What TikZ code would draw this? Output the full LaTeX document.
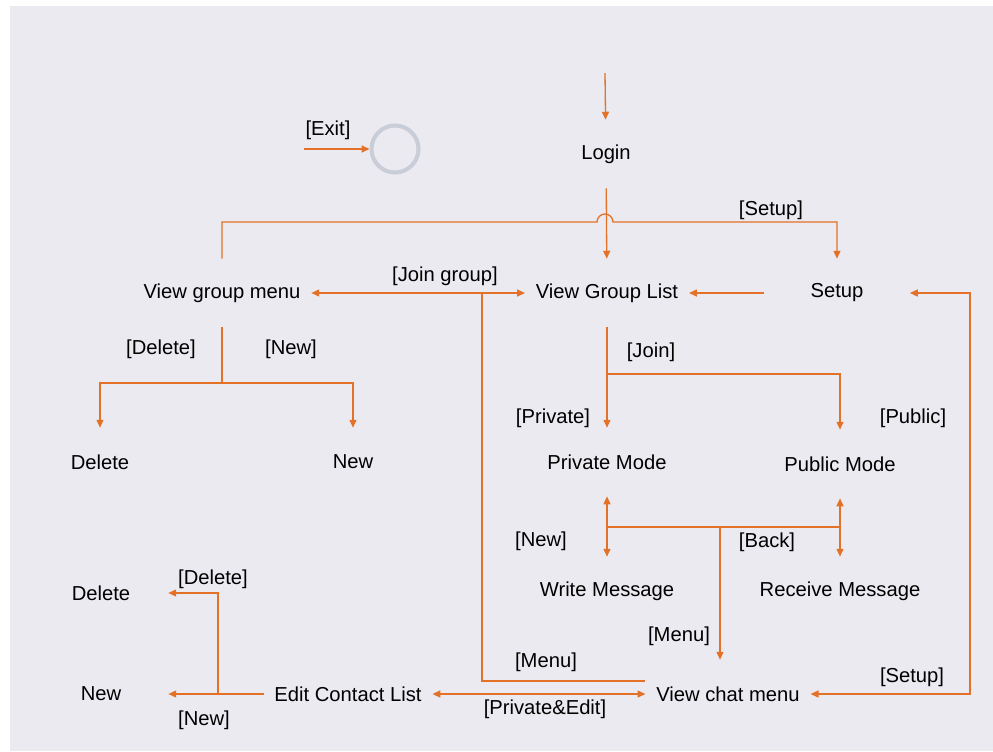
\documentclass[tikz,border=0pt]{standalone}
\usepackage{fontspec}
\setmainfont{Liberation Sans}
\usepackage{xcolor}
\usetikzlibrary{arrows.meta, positioning}
\definecolor{flowline}{RGB}{228,113,40}
\definecolor{canvas}{RGB}{235,234,240}
\definecolor{endring}{RGB}{200,205,216}
\tikzset{
  state/.style={inner xsep=6pt, inner ysep=0pt, minimum height=1.36cm,
                font=\fontsize{11.5}{13.8}\selectfont},
  sidestate/.style={state, minimum width=2.68cm},
  guard/.style={inner sep=1pt, font=\fontsize{11.5}{13.8}\selectfont},
  link/.style={draw=flowline, line width=0.75pt},
  flow/.style={link, -{Triangle[length=4.5pt, width=4pt]}},
  twoway/.style={link, {Triangle[length=4.5pt, width=4pt]}-{Triangle[length=4.5pt, width=4pt]}},
  finalstate/.style={circle, draw=endring, line width=2.3pt,
                     minimum size=0.94cm, inner sep=0pt},
}

\begin{document}
\begin{tikzpicture}[x=0.02cm, y=-0.02cm]
  \useasboundingbox (0,0) rectangle (993,751);
  \fill[canvas] (10,6) rectangle (993,751);

  % --- States ---
  \node[state] (login) at (606,154) {Login};
  \node[state] (vgm)   at (222,293) {View group menu};
  \node[state] (vgl)   at (607,293) {View Group List};
  \node[state, minimum width=2.9cm] (setup) at (837,293) {Setup};
  \node[state] (del1)  at (100,462) {Delete};
  \node[state] (new1)  at (353,462) {New};
  \node[state] (pm)    at (607,462) {Private Mode};
  \node[state] (pub)   at (840,464) {Public Mode};
  \node[state] (wm)    at (607,591) {Write Message};
  \node[state] (rm)    at (840,591) {Receive Message};
  \node[sidestate] (del2) at (101,593) {Delete};
  \node[sidestate] (new2) at (101,694) {New};
  \node[state] (ecl)   at (348,694) {Edit Contact List};
  \node[state] (vcm)   at (728,694) {View chat menu};
  \node[finalstate] (exit) at (395,149) {};

  % --- Helper points ---
  \coordinate (start)  at (605,73);
  \coordinate (exitin) at (304,149);
  \coordinate (hopL)   at (597,222);
  \coordinate (gsplit) at (222,383);
  \coordinate (jsplit) at (607,374);
  \coordinate (msplit) at (720,527);
  \coordinate (menuup) at (482,293);
  \coordinate (esplit) at (218,694);
  \coordinate (loop)   at (970,500);

  % --- Transitions ---
  \draw[flow] (start) -- (login);
  \draw[flow] (exitin) -- (exit);
  \draw[flow] (login) -- (vgl);
  \draw[flow] (vgm.north) |- (hopL) arc[start angle=180, end angle=0, radius=0.16cm]
              -| (setup.north);
  \draw[twoway] (vgm) -- (vgl);
  \draw[flow] (setup) -- (vgl);
  \draw[twoway] (setup.east) -| (loop) |- (vcm.east);

  \draw[link] (vgm) -- (gsplit);
  \draw[flow] (gsplit) -| (del1.north);
  \draw[flow] (gsplit) -| (new1.north);

  \draw[flow] (vgl) -- (pm);
  \draw[flow] (jsplit) -| (pub.north);

  \draw[twoway] (pm) -- (wm);
  \draw[twoway] (pub) -- (rm);
  \draw[link] (pm.south |- msplit) -- (pub.south |- msplit);
  \draw[flow] (msplit) -- (msplit |- vcm.north);

  \draw[link] ([yshift=0.26cm]vcm.west) -| (menuup);
  \draw[twoway] (ecl) -- (vcm);
  \draw[flow] (ecl) -- (new2);
  \draw[flow] (esplit) |- (del2.east);

  % --- Guards ---
  \node[guard] (gexit)    at (328,130) {[Exit]};
  \node[guard] (gsetup1)  at (771,210) {[Setup]};
  \node[guard] (gjoingrp) at (445,276) {[Join group]};
  \node[guard] (gdel1)    at (161,349) {[Delete]};
  \node[guard] (gnew1)    at (291,349) {[New]};
  \node[guard] (gjoin)    at (651,352) {[Join]};
  \node[guard] (gpriv)    at (553,418) {[Private]};
  \node[guard] (gpub)     at (913,418) {[Public]};
  \node[guard] (gnew2)    at (541,541) {[New]};
  \node[guard] (gback)    at (767,542) {[Back]};
  \node[guard] (gdel2)    at (213,579) {[Delete]};
  \node[guard] (gmenu1)   at (679,636) {[Menu]};
  \node[guard] (gmenu2)   at (546,662) {[Menu]};
  \node[guard] (gsetup2)  at (912,677) {[Setup]};
  \node[guard] (gpe)      at (545,709) {[Private\&Edit]};
  \node[guard] (gnew3)    at (204,720) {[New]};
\end{tikzpicture}
\end{document}
